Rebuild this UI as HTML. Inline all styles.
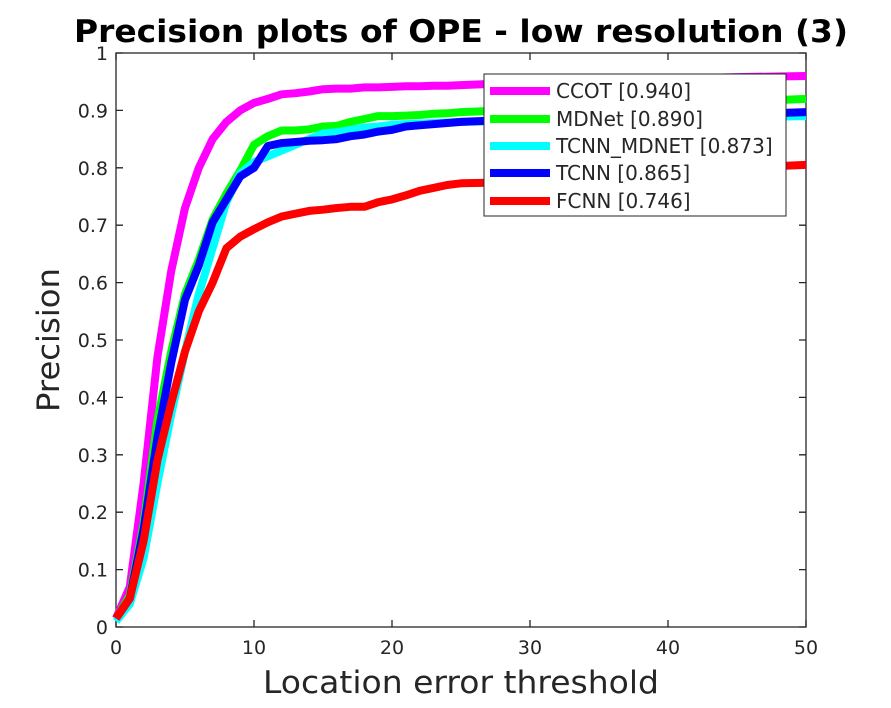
<!DOCTYPE html>
<html><head><meta charset="utf-8"><style>
body{margin:0;background:#fff;width:891px;height:703px;overflow:hidden}
svg{font-family:"DejaVu Sans","Liberation Sans",sans-serif}
</style></head><body>
<svg id="chart" width="891" height="703">
<rect width="891" height="703" fill="#fff"/>
<text x="461" y="42" text-anchor="middle" font-size="31" font-weight="bold" textLength="774" lengthAdjust="spacingAndGlyphs">Precision plots of OPE - low resolution (3)</text>
<g id="plot"></g>
<text x="461" y="693" text-anchor="middle" font-size="31" fill="#262626" textLength="396" lengthAdjust="spacingAndGlyphs">Location error threshold</text>
<text transform="translate(59,340) rotate(-90)" text-anchor="middle" font-size="31" fill="#262626" textLength="144" lengthAdjust="spacingAndGlyphs">Precision</text>
</svg>
<script>
const xs = [0,1,2,3,4,5,6,7,8,9,10,11,12,13,14,15,16,17,18,19,20,21,22,23,24,25,27,30,35,40,45,50];
const seriesNames = ["CCOT [0.940]","MDNet [0.890]","TCNN_MDNET [0.873]","TCNN [0.865]","FCNN [0.746]"];
const seriesColors = ["#ff00ff","#00ff00","#00ffff","#0000ff","#ff0000"];
const ccot = [0.015,0.07,0.25,0.47,0.62,0.73,0.80,0.85,0.88,0.90,0.913,0.92,0.928,0.93,0.933,0.937,0.938,0.938,0.94,0.94,0.941,0.942,0.942,0.943,0.943,0.944,0.946,0.95,0.952,0.955,0.958,0.96];
const mdnet = [0.015,0.055,0.18,0.36,0.48,0.58,0.64,0.71,0.755,0.795,0.84,0.855,0.865,0.865,0.867,0.872,0.873,0.88,0.885,0.89,0.89,0.891,0.892,0.894,0.895,0.897,0.899,0.903,0.906,0.91,0.915,0.92];
const tcnnMdnet = [0.01,0.04,0.12,0.25,0.37,0.48,0.58,0.66,0.74,0.79,0.81,0.82,0.83,0.84,0.85,0.86,0.862,0.866,0.87,0.872,0.875,0.876,0.877,0.878,0.879,0.88,0.881,0.882,0.884,0.885,0.888,0.89];
const tcnn = [0.015,0.05,0.17,0.33,0.46,0.57,0.63,0.705,0.745,0.785,0.80,0.838,0.843,0.845,0.847,0.848,0.85,0.855,0.858,0.863,0.866,0.872,0.874,0.876,0.878,0.88,0.882,0.884,0.887,0.89,0.893,0.897];
const fcnn = [0.015,0.05,0.15,0.29,0.39,0.48,0.55,0.60,0.66,0.68,0.693,0.705,0.715,0.72,0.725,0.727,0.73,0.732,0.732,0.74,0.745,0.752,0.76,0.765,0.77,0.773,0.774,0.775,0.785,0.792,0.8,0.805];
const xTicks = [0,10,20,30,40,50];
const yTicks = [0,0.1,0.2,0.3,0.4,0.5,0.6,0.7,0.8,0.9,1];
const allSeries = [ccot,mdnet,tcnnMdnet,tcnn,fcnn];

const L=116,R=806,T=53,B=627;
const sx=v=>L+(R-L)*v/50, sy=v=>B-(B-T)*v;
const NS="http://www.w3.org/2000/svg";
const g=document.getElementById('plot');
function mk(tag,attrs){const e=document.createElementNS(NS,tag);for(const k in attrs)e.setAttribute(k,attrs[k]);g.appendChild(e);return e;}
const frame=mk('rect',{x:L,y:T,width:R-L,height:B-T,fill:'#fff',stroke:'#262626','stroke-width':1.3});


xTicks.forEach(t=>{
  const l=mk('path',{d:`M${sx(t)},${B}v-7M${sx(t)},${T}v7`,stroke:'#262626','stroke-width':1.3});
  
  
  const tx=mk('text',{x:sx(t),y:B+27,'text-anchor':'middle','font-size':19,fill:'#262626'});
  tx.textContent=t;
  
  
});
yTicks.forEach(t=>{
  const l=mk('path',{d:`M${L},${sy(t)}h7M${R},${sy(t)}h-7`,stroke:'#262626','stroke-width':1.3});
  
  
  const tx=mk('text',{x:L-8,y:sy(t)+7,'text-anchor':'end','font-size':19,fill:'#262626'});
  tx.textContent=String(t);
  
  
});
allSeries.forEach((s,i)=>{
  const d=s.map((v,j)=>(j?'L':'M')+sx(xs[j]).toFixed(1)+','+sy(v).toFixed(1)).join('');
  const p=mk('path',{d,fill:'none',stroke:seriesColors[i],'stroke-width':8,'stroke-linejoin':'round'});
  
  
});
const lb=mk('rect',{x:484,y:74,width:302,height:142,fill:'#fff',stroke:'#262626','stroke-width':1});


const ly=[91,119,146,173,201];
seriesNames.forEach((n,i)=>{
  const l=mk('line',{x1:490,x2:550,y1:ly[i],y2:ly[i],stroke:seriesColors[i],'stroke-width':8});
  
  
  const tx=mk('text',{x:556,y:ly[i]+7,'font-size':20,fill:'#262626'});
  tx.textContent=n;
  
  
});
</script>
</body></html>
